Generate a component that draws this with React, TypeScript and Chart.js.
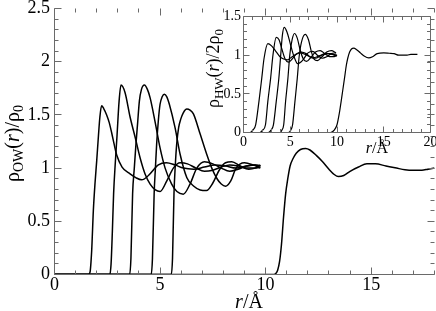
import React, { useEffect, useRef } from 'react';
import { Chart, registerables } from 'chart.js';

Chart.register(...registerables);

const FONT = '"Liberation Serif", "Times New Roman", Times, serif';

// ---- main plot: rho_OW(r)/rho_0 ----
const owR1 = [0, 1.6, 1.68, 1.76, 1.84, 1.92, 2.0, 2.08, 2.15, 2.23, 2.33, 2.47, 2.59, 2.71, 2.83, 2.95, 3.2, 3.58, 3.85, 4.13, 4.45, 4.92, 5.3, 5.7, 6.1, 6.6, 7.1, 7.6, 8.1, 8.6, 9.1, 9.5, 9.75];
const owRho1 = [0, 0, 0.02, 0.22, 0.6, 0.86, 1.07, 1.3, 1.48, 1.585, 1.56, 1.5, 1.43, 1.33, 1.22, 1.12, 1.01, 0.945, 0.91, 0.89, 0.93, 1.03, 1.05, 1.03, 1.0, 0.99, 1.01, 1.03, 1.02, 1.0, 1.02, 1.03, 1.02];

const owR2 = [0, 2.62, 2.68, 2.74, 2.8, 2.88, 2.96, 3.06, 3.15, 3.34, 3.58, 3.82, 4.05, 4.29, 4.53, 4.78, 5.0, 5.32, 5.63, 5.95, 6.3, 6.7, 7.1, 7.5, 7.9, 8.3, 8.7, 9.1, 9.5, 9.75];
const owRho2 = [0, 0, 0.1, 0.4, 0.76, 1.05, 1.3, 1.63, 1.78, 1.71, 1.48, 1.29, 1.1, 0.945, 0.85, 0.795, 0.78, 0.88, 1.0, 1.05, 1.04, 1.0, 0.97, 0.98, 1.01, 1.03, 1.02, 1.0, 1.0, 1.01];

const owR3 = [0, 3.56, 3.62, 3.7, 3.78, 3.86, 3.94, 4.02, 4.12, 4.26, 4.4, 4.53, 4.76, 5.0, 5.24, 5.55, 5.8, 6.1, 6.42, 6.74, 7.1, 7.5, 7.9, 8.3, 8.7, 9.1, 9.5, 9.75];
const owRho3 = [0, 0, 0.15, 0.76, 1.0, 1.23, 1.43, 1.63, 1.74, 1.78, 1.74, 1.66, 1.44, 1.19, 1.0, 0.85, 0.78, 0.755, 0.85, 1.0, 1.06, 1.04, 1.0, 0.97, 0.99, 1.02, 1.03, 1.02];

const owR4 = [0, 4.58, 4.64, 4.72, 4.78, 4.84, 4.92, 5.0, 5.1, 5.2, 5.32, 5.44, 5.71, 5.95, 6.27, 6.6, 6.9, 7.2, 7.5, 7.8, 8.1, 8.4, 8.8, 9.2, 9.5, 9.75];
const owRho4 = [0, 0, 0.15, 0.76, 1.0, 1.23, 1.45, 1.6, 1.67, 1.695, 1.67, 1.6, 1.38, 1.13, 0.91, 0.83, 0.795, 0.79, 0.86, 0.98, 1.05, 1.06, 1.02, 0.99, 1.0, 1.03];

const owR5 = [0, 5.53, 5.59, 5.66, 5.72, 5.79, 5.88, 5.98, 6.1, 6.27, 6.42, 6.58, 6.9, 7.21, 7.45, 7.7, 7.9, 8.1, 8.35, 8.6, 9.0, 9.4, 9.75];
const owRho5 = [0, 0, 0.15, 0.76, 1.02, 1.23, 1.38, 1.46, 1.52, 1.555, 1.545, 1.51, 1.32, 1.13, 1.0, 0.9, 0.85, 0.83, 0.88, 1.0, 1.05, 1.03, 1.0];

const owR6 = [0, 10.4, 10.48, 10.57, 10.66, 10.75, 10.85, 10.95, 11.05, 11.16, 11.3, 11.45, 11.65, 11.9, 12.1, 12.4, 12.7, 13.0, 13.25, 13.45, 13.7, 14.0, 14.4, 14.8, 15.2, 15.7, 16.2, 16.6, 17.0, 17.4, 17.7, 18.0];
const owRho6 = [0, 0, 0.01, 0.04, 0.12, 0.28, 0.54, 0.76, 0.9, 1.02, 1.09, 1.14, 1.175, 1.185, 1.17, 1.12, 1.06, 0.99, 0.94, 0.92, 0.93, 0.97, 1.01, 1.04, 1.04, 1.02, 1.0, 0.985, 0.98, 0.98, 0.99, 1.0];

// ---- inset: rho_HW(r)/2rho_0 ----
const hwR1 = [0, 0.7, 1.0, 1.3, 1.65, 1.95, 2.2, 2.6, 3.0, 3.4, 3.9, 4.3, 4.7, 5.1, 5.6, 6.1, 6.6, 7.1, 7.6, 8.1, 8.6, 9.1, 9.6, 10.0];
const hwRho1 = [0, 0, 0.03, 0.1, 0.4, 0.7, 0.96, 1.15, 1.12, 1.06, 0.98, 0.95, 0.94, 0.97, 1.01, 1.03, 1.01, 0.98, 0.97, 0.99, 1.01, 1.02, 1.01, 1.0];

const hwR2 = [0, 1.75, 2.05, 2.35, 2.6, 2.9, 3.15, 3.5, 3.8, 4.1, 4.45, 4.8, 5.2, 5.7, 6.2, 6.7, 7.2, 7.7, 8.2, 8.7, 9.2, 9.7, 10.0];
const hwRho2 = [0, 0, 0.03, 0.1, 0.4, 0.7, 1.0, 1.23, 1.2, 1.08, 0.95, 0.91, 0.95, 1.02, 1.04, 1.02, 0.97, 0.96, 0.99, 1.02, 1.02, 1.0, 0.99];

const hwR3 = [0, 2.65, 2.95, 3.2, 3.5, 3.78, 3.98, 4.15, 4.35, 4.65, 5.0, 5.35, 5.8, 6.3, 6.9, 7.4, 7.9, 8.4, 8.9, 9.4, 9.9];
const hwRho3 = [0, 0, 0.03, 0.1, 0.4, 0.7, 1.0, 1.25, 1.36, 1.3, 1.15, 1.0, 0.89, 0.93, 1.03, 1.05, 1.0, 0.96, 0.98, 1.02, 1.03];

const hwR4 = [0, 3.9, 4.1, 4.3, 4.5, 4.75, 4.95, 5.2, 5.45, 5.75, 6.05, 6.4, 6.75, 7.2, 7.7, 8.2, 8.7, 9.2, 9.7, 10.0];
const hwRho4 = [0, 0, 0.03, 0.1, 0.4, 0.7, 1.0, 1.2, 1.28, 1.22, 1.07, 0.95, 0.92, 0.97, 1.04, 1.06, 1.02, 0.98, 0.98, 1.0];

const hwR5 = [0, 4.8, 5.05, 5.25, 5.5, 5.75, 5.95, 6.2, 6.6, 6.95, 7.25, 7.55, 7.9, 8.4, 8.9, 9.4, 9.9];
const hwRho5 = [0, 0, 0.03, 0.1, 0.4, 0.7, 0.98, 1.17, 1.27, 1.2, 1.05, 0.95, 0.93, 0.98, 1.04, 1.06, 1.03];

const hwR6 = [0, 9.3, 9.7, 10.0, 10.25, 10.44, 10.62, 10.8, 11.0, 11.15, 11.35, 11.55, 11.8, 12.1, 12.5, 12.9, 13.4, 13.8, 14.3, 15.0, 15.6, 16.1, 16.6, 17.1, 17.5, 17.9, 18.6];
const hwRho6 = [0, 0, 0.03, 0.1, 0.25, 0.4, 0.55, 0.7, 0.87, 0.96, 1.04, 1.08, 1.09, 1.07, 1.03, 0.99, 0.965, 0.98, 1.02, 1.03, 1.025, 1.02, 1.0, 1.0, 1.0, 1.01, 1.01];

// ---- tick labels ----
const mainXTicks = [0, 5, 10, 15];
const mainYTicks = [0, 0.5, 1, 1.5, 2, 2.5];
const insetXTicks = [0, 5, 10, 15, 20];
const insetYTicks = [0, 0.5, 1, 1.5];

const AXIS_COLOR = '#6a6a6a';

type Seg = { t: string; it?: boolean; sub?: boolean };

function drawRich(ctx: CanvasRenderingContext2D, segs: Seg[], x: number, y: number, size: number, rot: number) {
  ctx.save();
  ctx.translate(x, y);
  if (rot) ctx.rotate(rot);
  const fontFor = (s: Seg) => `${s.it ? 'italic ' : ''}${s.sub ? Math.round(size * 0.72) : size}px ${FONT}`;
  let total = 0;
  for (const s of segs) {
    ctx.font = fontFor(s);
    total += ctx.measureText(s.t).width;
  }
  let cx = -total / 2;
  ctx.textAlign = 'left';
  ctx.textBaseline = 'alphabetic';
  ctx.fillStyle = '#000';
  for (const s of segs) {
    ctx.font = fontFor(s);
    ctx.fillText(s.t, cx, s.sub ? size * 0.22 : 0);
    cx += ctx.measureText(s.t).width;
  }
  ctx.restore();
}

type FrameOpts = {
  xMinor: number; xMajor: number; yMinor: number; yMajor: number;
  majorLen: number; minorLen: number;
  lines: { left: boolean; right: boolean; top: boolean; bottom: boolean };
  titles: (chart: any, ctx: CanvasRenderingContext2D) => void;
};

function framePlugin(o: FrameOpts) {
  return {
    id: 'frameTicks',
    afterDraw(chart: any) {
      const ctx: CanvasRenderingContext2D = chart.ctx;
      const a = chart.chartArea;
      const xs = chart.scales.x;
      const ys = chart.scales.y;
      ctx.save();
      ctx.strokeStyle = AXIS_COLOR;
      ctx.lineWidth = 1;
      ctx.beginPath();
      if (o.lines.left) { ctx.moveTo(a.left, a.top); ctx.lineTo(a.left, a.bottom); }
      if (o.lines.right) { ctx.moveTo(a.right, a.top); ctx.lineTo(a.right, a.bottom); }
      if (o.lines.top) { ctx.moveTo(a.left, a.top); ctx.lineTo(a.right, a.top); }
      if (o.lines.bottom) { ctx.moveTo(a.left, a.bottom); ctx.lineTo(a.right, a.bottom); }
      const nX = Math.round((xs.max - xs.min) / o.xMinor);
      for (let i = 0; i <= nX; i++) {
        const v = xs.min + i * o.xMinor;
        const major = i % Math.round(o.xMajor / o.xMinor) === 0;
        const len = major ? o.majorLen : o.minorLen;
        const px = Math.floor(xs.getPixelForValue(v)) + 0.5;
        ctx.moveTo(px, a.bottom); ctx.lineTo(px, a.bottom - len);
        ctx.moveTo(px, a.top); ctx.lineTo(px, a.top + len);
      }
      const nY = Math.round((ys.max - ys.min) / o.yMinor);
      for (let i = 0; i <= nY; i++) {
        const v = ys.min + i * o.yMinor;
        const major = i % Math.round(o.yMajor / o.yMinor) === 0;
        const len = major ? o.majorLen : o.minorLen;
        const py = Math.floor(ys.getPixelForValue(v)) + 0.5;
        ctx.moveTo(a.left, py); ctx.lineTo(a.left + len, py);
        ctx.moveTo(a.right, py); ctx.lineTo(a.right - len, py);
      }
      ctx.stroke();
      ctx.restore();
      o.titles(chart, ctx);
    },
  };
}

const toPoints = (xs: number[], ys: number[]) => xs.map((x, i) => ({ x, y: ys[i] }));

const lineDs = (xs: number[], ys: number[], w: number) => ({
  data: toPoints(xs, ys),
  borderColor: '#000',
  borderWidth: w,
  pointRadius: 0,
  fill: false,
  cubicInterpolationMode: 'monotone' as const,
});

function scaleOpts(min: number, max: number, ticks: number[], size: number, pad: number, fit: (s: any) => void) {
  return {
    type: 'linear' as const,
    min,
    max,
    afterBuildTicks: (s: any) => { s.ticks = ticks.map((v) => ({ value: v })); },
    afterFit: (s: any) => {
      fit(s);
      s.paddingTop = 0; s.paddingBottom = 0; s.paddingLeft = 0; s.paddingRight = 0;
    },
    grid: { display: false, drawTicks: false },
    border: { display: false },
    ticks: {
      font: { family: FONT, size },
      color: '#000',
      padding: pad,
      maxRotation: 0,
      autoSkip: false,
      callback: (v: any) => String(Number(v)),
    },
  };
}

export default function App() {
  const mainRef = useRef<HTMLCanvasElement>(null);
  const insetRef = useRef<HTMLCanvasElement>(null);

  useEffect(() => {
    const main = new Chart(mainRef.current!, {
      type: 'line',
      data: {
        datasets: [
          lineDs(owR1, owRho1, 1.5), lineDs(owR2, owRho2, 1.5), lineDs(owR3, owRho3, 1.5),
          lineDs(owR4, owRho4, 1.5), lineDs(owR5, owRho5, 1.5), lineDs(owR6, owRho6, 1.5),
        ],
      },
      options: {
        animation: false,
        responsive: false,
        devicePixelRatio: 1,
        events: [],
        layout: { padding: { top: 8.5, right: 1.5, left: 0, bottom: 0 } },
        plugins: { legend: { display: false }, tooltip: { enabled: false } },
        scales: {
          x: scaleOpts(0, 18, mainXTicks, 18, 0, (s: any) => { s.height = 36.5; }),
          y: scaleOpts(0, 2.5, mainYTicks, 18, 4.5, (s: any) => { s.width = 54.5; }),
        },
      },
      plugins: [framePlugin({
        xMinor: 1, xMajor: 5, yMinor: 0.1, yMajor: 0.5, majorLen: 7, minorLen: 4,
        lines: { left: true, right: false, top: false, bottom: true },
        titles: (chart, ctx) => {
          const a = chart.chartArea;
          drawRich(ctx, [{ t: 'r', it: true }, { t: '/Å' }], (a.left + a.right) / 2 + 4.5, a.bottom + 33.5, 20, 0);
          drawRich(ctx, [{ t: 'ρ' }, { t: 'OW', sub: true }, { t: '(' }, { t: 'r', it: true }, { t: ')/ρ' }, { t: '0', sub: true }],
            19, (a.top + a.bottom) / 2 + 2, 20, -Math.PI / 2);
        },
      })],
    } as any);

    const inset = new Chart(insetRef.current!, {
      type: 'line',
      data: {
        datasets: [
          lineDs(hwR1, hwRho1, 1.2), lineDs(hwR2, hwRho2, 1.2), lineDs(hwR3, hwRho3, 1.2),
          lineDs(hwR4, hwRho4, 1.2), lineDs(hwR5, hwRho5, 1.2), lineDs(hwR6, hwRho6, 1.2),
        ],
      },
      options: {
        animation: false,
        responsive: false,
        devicePixelRatio: 1,
        events: [],
        layout: { padding: { top: 16.5, right: 5.5, left: 0, bottom: 0 } },
        plugins: { legend: { display: false }, tooltip: { enabled: false } },
        scales: {
          x: scaleOpts(0, 20, insetXTicks, 14, 1, (s: any) => { s.height = 37.5; }),
          y: scaleOpts(0, 1.5, insetYTicks, 14, 2.5, (s: any) => { s.width = 48.5; }),
        },
      },
      plugins: [framePlugin({
        xMinor: 1, xMajor: 5, yMinor: 0.1, yMajor: 0.5, majorLen: 6, minorLen: 3.5,
        lines: { left: true, right: true, top: true, bottom: true },
        titles: (chart, ctx) => {
          const a = chart.chartArea;
          drawRich(ctx, [{ t: 'r', it: true }, { t: '/Å' }], a.left + (a.right - a.left) * 0.713, a.bottom + 20.5, 16, 0);
          drawRich(ctx, [{ t: 'ρ' }, { t: 'HW', sub: true }, { t: '(' }, { t: 'r', it: true }, { t: ')/2ρ' }, { t: '0', sub: true }],
            a.left - 24.5, (a.top + a.bottom) / 2 - 6, 18, -Math.PI / 2);
        },
      })],
    } as any);

    return () => { main.destroy(); inset.destroy(); };
  }, []);

  return (
    <div style={{ position: 'absolute', left: 0, top: 0, width: 436, height: 311, background: '#fff' }}>
      <canvas ref={mainRef} width={436} height={311} style={{ position: 'absolute', left: 0, top: 0, width: 436, height: 311 }} />
      <canvas ref={insetRef} width={241} height={170} style={{ position: 'absolute', left: 195, top: 0, width: 241, height: 170 }} />
    </div>
  );
}
